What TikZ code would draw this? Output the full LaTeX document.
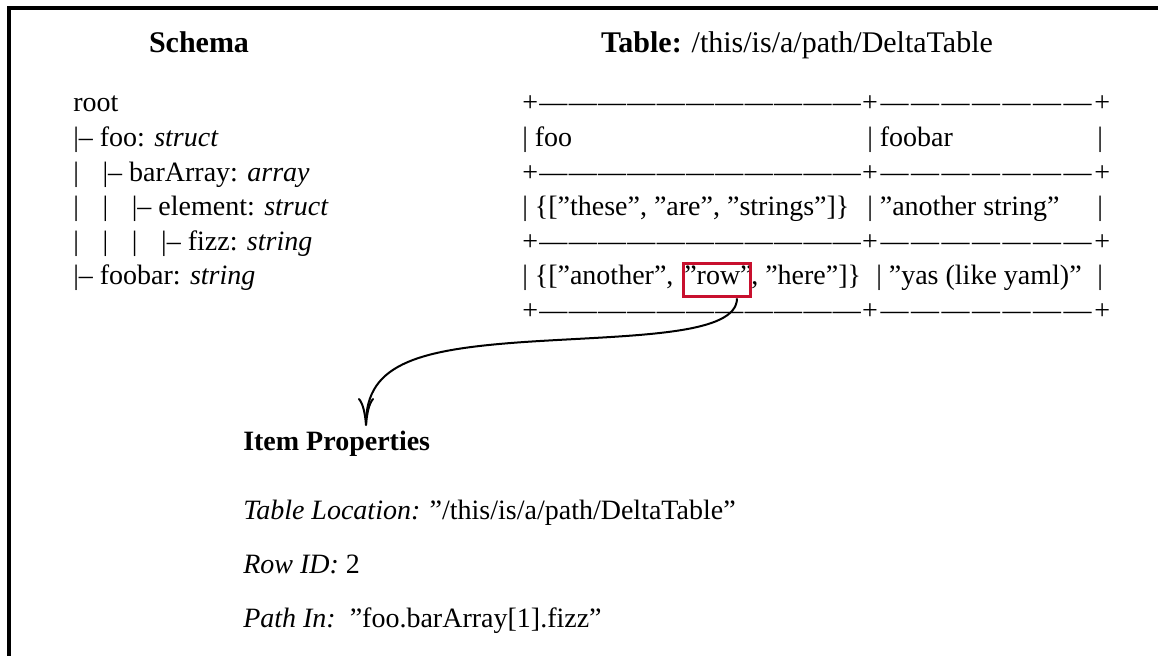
\documentclass[tikz,border=0pt]{standalone}
\usepackage{fontspec}
\setmainfont{Liberation Serif}
\usetikzlibrary{arrows.meta}
\definecolor{boxred}{RGB}{200,16,46}
% one indentation column of the schema tree
\newcommand{\tpipe}{\makebox[22pt][l]{|}}
% run of em dashes filling the rest of a box
\newcommand{\dashfill}{\xleaders\hbox{—}\hfill}
% horizontal rule of the ASCII table
\newcommand{\tablerule}{\hbox to 255pt{+\dashfill}\hbox to 174pt{+\dashfill}+}

\begin{document}
\begin{tikzpicture}[x=0.75pt,y=-0.75pt,
  txt/.style={anchor=base west, inner sep=0pt, font=\fontsize{21}{25}\selectfont},
  head/.style={anchor=base, inner sep=0pt, font=\fontsize{22.5}{27}\selectfont},
  frame/.style={line width=3pt},
  hilite/.style={draw=boxred, line width=2.5pt, minimum width=50pt, minimum height=25pt, inner sep=0pt},
  link/.style={line width=1.5pt, -{To[length=21pt,width=12pt]}}]
\useasboundingbox (0,0) rectangle (1158,656);

% outer frame
\draw[frame] (8.5,700) -- (8.5,8) -- (1200,8);

% headings
\node[head] (schemahead) at (199,53) {\textbf{Schema}};
\node[head] (tablehead) at (797,53) {\textbf{Table:} /this/is/a/path/DeltaTable};

% schema tree
\node[txt] (s0) at (73,112) {root};
\node[txt] (s1) at (73,146.6) {|– foo: \textit{struct}};
\node[txt] (s2) at (73,181.2) {\tpipe|– barArray: \textit{array}};
\node[txt] (s3) at (73,215.8) {\tpipe\tpipe|– element: \textit{struct}};
\node[txt] (s4) at (73,250.4) {\tpipe\tpipe\tpipe|– fizz: \textit{string}};
\node[txt] (s5) at (73,285) {|– foobar: \textit{string}};

% table
\node[txt] (t0) at (522,112) {\tablerule};
\node[txt] (t1a) at (522,146.6) {| foo};
\node[txt] (t1b) at (867,146.6) {| foobar};
\node[txt] (t1c) at (1097,146.6) {|};
\node[txt] (t2) at (522,181.2) {\tablerule};
\node[txt] (t3a) at (522,215.8) {| \{[”these”, ”are”, ”strings”]\}};
\node[txt] (t3b) at (867,215.8) {| ”another string”};
\node[txt] (t3c) at (1097,215.8) {|};
\node[txt] (t4) at (522,250.4) {\tablerule};
\node[txt] (t5a) at (522,285) {| \{[”another”,};
\node[txt] (t5w) at (684,285) {”row”};
\node[txt] (t5r) at (751,285) {, ”here”]\}};
\node[txt] (t5b) at (876,285) {| ”yas (like yaml)”};
\node[txt] (t5c) at (1097,285) {|};
\node[txt] (t6) at (522,319.6) {\tablerule};

% highlighted cell value
\node[hilite] (rowbox) at (717,280) {};

% item properties
\node[txt] (itemhead) at (243,450) {\textbf{Item Properties}};
\node[txt] (loc) at (243,519) {\textit{Table Location:} ”/this/is/a/path/DeltaTable”};
\node[txt] (rowid) at (243,573) {\textit{Row ID:} 2};
\node[txt] (pathin) at (243,627) {\textit{Path In:}\enspace ”foo.barArray[1].fizz”};

\coordinate (tip) at (366,426);
\draw[link] ([xshift=15pt]rowbox.south) .. controls +(0,36) and (640,335) .. (540,341)
  .. controls (420,348.2) and (366,362) .. (tip);
\end{tikzpicture}
\end{document}
